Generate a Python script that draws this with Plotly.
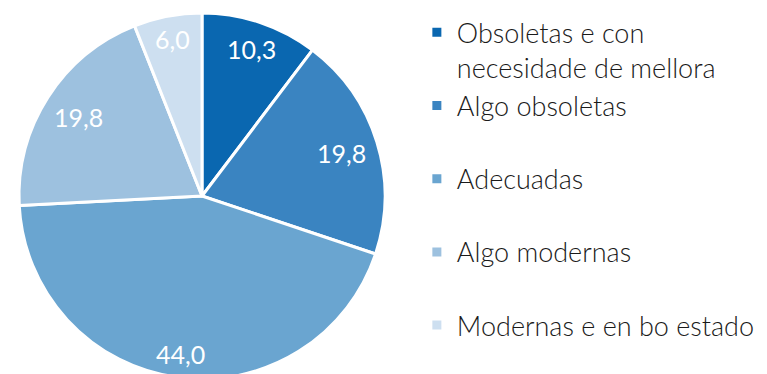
import math
import plotly.graph_objects as go

# Estado das instalacións (%)
categories = [
    "Obsoletas e con necesidade de mellora",
    "Algo obsoletas",
    "Adecuadas",
    "Algo modernas",
    "Modernas e en bo estado",
]
values = [10.3, 19.8, 44.0, 19.8, 6.0]
colors = ["#0a67b0", "#3a84c1", "#6aa5d0", "#9dc1df", "#cddff0"]

FONT = "Lato, 'Open Sans', sans-serif"
W, H = 767, 379
M_TOP = 13
DOMAIN_X = [19 / W, 385 / W]
DOMAIN_Y = [0, 1]

# Legend text: wrap the long label, pad middle entries to an even two-line height
legend_labels = []
for i, c in enumerate(categories):
    if c.startswith("Obsoletas"):
        legend_labels.append(c.replace(" necesidade", "<br>necesidade"))
    elif i < len(categories) - 1:
        legend_labels.append(c + "<br> ")
    else:
        legend_labels.append(c)

fig = go.Figure(
    go.Pie(
        labels=legend_labels,
        values=values,
        sort=False,
        direction="clockwise",
        rotation=0,
        marker=dict(colors=colors, line=dict(color="white", width=3)),
        textinfo="none",
        domain=dict(x=DOMAIN_X, y=DOMAIN_Y),
        hoverinfo="label+value",
    )
)

# Value labels placed near the outer edge of each slice, along its bisector
plot_h = H - M_TOP
cx = (DOMAIN_X[0] + DOMAIN_X[1]) / 2 * W
cy = M_TOP + (1 - (DOMAIN_Y[0] + DOMAIN_Y[1]) / 2) * plot_h
R = min((DOMAIN_X[1] - DOMAIN_X[0]) * W, (DOMAIN_Y[1] - DOMAIN_Y[0]) * plot_h) / 2
total = sum(values)
cum = 0.0
LABEL_SIZE = 25
for v in values:
    mid = (cum + v / 2) / total * 2 * math.pi
    cum += v
    txt = f"{v:.1f}".replace(".", ",")
    hw = 0.27 * LABEL_SIZE * len(txt) / 1.05
    hh = 11
    r = R - 9 - hw * abs(math.sin(mid)) - hh * abs(math.cos(mid))
    px = cx + r * math.sin(mid)
    py = cy - r * math.cos(mid)
    fig.add_annotation(
        x=px / W,
        y=(H - py) / plot_h,
        xref="paper",
        yref="paper",
        text=txt,
        showarrow=False,
        xanchor="center",
        yanchor="middle",
        font=dict(family=FONT, size=LABEL_SIZE, color="white", weight=400),
    )

fig.update_layout(
    width=W,
    height=H,
    margin=dict(l=0, r=0, t=M_TOP, b=0, autoexpand=False),
    paper_bgcolor="white",
    plot_bgcolor="white",
    font=dict(family=FONT, color="#222222"),
    legend=dict(
        x=0.5435,
        xanchor="left",
        y=1.013,
        yanchor="top",
        valign="top",
        maxheight=600,
        font=dict(family=FONT, size=27, color="#1a1a1a", weight=300),
        bgcolor="rgba(0,0,0,0)",
        traceorder="normal",
    ),
)

fig.write_html(
    "out.html",
    post_script="document.documentElement.style.overflow='hidden';document.body.style.overflow='hidden';",
)
